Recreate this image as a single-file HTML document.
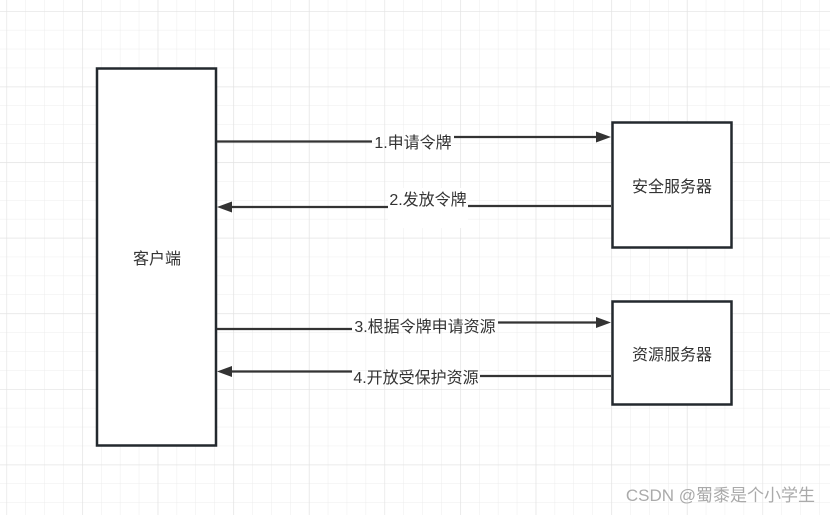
<!DOCTYPE html>
<html><head><meta charset="utf-8"><style>
html,body{margin:0;padding:0;background:#fff;}
svg{display:block;}
text{font-family:"Liberation Sans","Noto Sans CJK SC",sans-serif;fill:#333;}
</style></head><body>
<svg width="830" height="515" xmlns="http://www.w3.org/2000/svg">
<defs>
<pattern id="g" x="6.5" y="11" width="18.9" height="18.9" patternUnits="userSpaceOnUse">
<path d="M0 0H18.9M0 0V18.9" stroke="#ececec" stroke-width="1" fill="none"/>
</pattern>
<pattern id="G" x="6.5" y="11" width="75.6" height="75.6" patternUnits="userSpaceOnUse">
<path d="M0 0H75.6M0 0V75.6" stroke="#e2e2e2" stroke-width="1.2" fill="none"/>
</pattern>
</defs>
<rect width="830" height="515" fill="#fff"/>
<rect width="830" height="515" fill="url(#g)"/>
<rect width="830" height="515" fill="url(#G)"/>

<rect x="97" y="68.5" width="119" height="377" fill="#fff" stroke="#23292e" stroke-width="2.5"/>
<rect x="612.5" y="122.5" width="119" height="125" fill="#fff" stroke="#23292e" stroke-width="2.5"/>
<rect x="612.5" y="301.5" width="119" height="103" fill="#fff" stroke="#23292e" stroke-width="2.5"/>
<text x="157" y="264" font-size="16" text-anchor="middle">客户端</text>
<text x="672" y="192" font-size="16" text-anchor="middle">安全服务器</text>
<text x="672" y="360" font-size="16" text-anchor="middle">资源服务器</text>

<g stroke="#333" stroke-width="2.2" fill="none">
<path d="M217 141.5H372M454 137H596"/>
<path d="M611 206H468M388 207H232"/>
<path d="M217 329H352M498 322.5H596"/>
<path d="M611 376H480M352 371.5H232"/>
</g>
<g fill="#333">
<path d="M611 137L596 131.5V142.5Z"/>
<path d="M217 207L232 201.5V212.5Z"/>
<path d="M611 322.5L596 317V328Z"/>
<path d="M217 371.5L232 366V377Z"/>
</g>
<rect x="388" y="188" width="80" height="40" fill="#fff"/>
<text x="413" y="148" font-size="16" text-anchor="middle">1.申请令牌</text>
<text x="428" y="205" font-size="16" text-anchor="middle">2.发放令牌</text>
<text x="425" y="332" font-size="16" text-anchor="middle">3.根据令牌申请资源</text>
<text x="416" y="383" font-size="16" text-anchor="middle">4.开放受保护资源</text>

<text x="815" y="501" font-size="17" text-anchor="end" style="fill:#aaa">CSDN @蜀黍是个小学生</text>
</svg>
</body></html>
